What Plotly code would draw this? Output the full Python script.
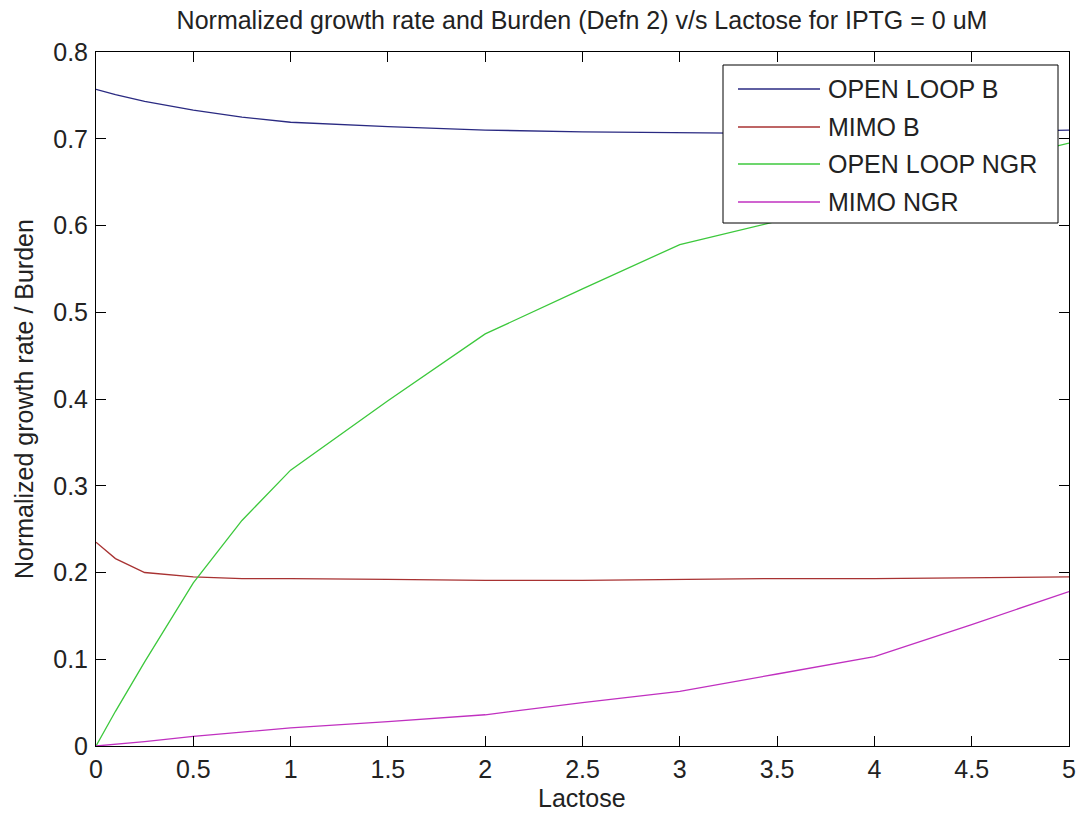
import plotly.graph_objects as go

# ---- data ----
lactose = [0, 0.1, 0.25, 0.5, 0.75, 1, 1.5, 2, 2.5, 3, 3.5, 4, 4.5, 5]
open_loop_b = [0.757, 0.751, 0.743, 0.733, 0.725, 0.719, 0.714, 0.710, 0.708, 0.707, 0.706, 0.706, 0.708, 0.710]
mimo_b = [0.235, 0.216, 0.200, 0.195, 0.193, 0.193, 0.192, 0.191, 0.191, 0.192, 0.193, 0.193, 0.194, 0.195]
open_loop_ngr = [0.0, 0.040, 0.097, 0.188, 0.260, 0.318, 0.398, 0.475, 0.527, 0.578, 0.605, 0.640, 0.668, 0.695]
mimo_ngr = [0.0, 0.002, 0.005, 0.011, 0.016, 0.021, 0.028, 0.036, 0.050, 0.063, 0.083, 0.103, 0.140, 0.178]

series_names = ["OPEN LOOP B", "MIMO B", "OPEN LOOP NGR", "MIMO NGR"]
series_values = [open_loop_b, mimo_b, open_loop_ngr, mimo_ngr]
series_colors = ["#2a2a82", "#a83232", "#3cc83c", "#c030c0"]

x_ticks = [0, 0.5, 1, 1.5, 2, 2.5, 3, 3.5, 4, 4.5, 5]
x_tick_labels = ["0", "0.5", "1", "1.5", "2", "2.5", "3", "3.5", "4", "4.5", "5"]
y_ticks = [0, 0.1, 0.2, 0.3, 0.4, 0.5, 0.6, 0.7, 0.8]
y_tick_labels = ["0", "0.1", "0.2", "0.3", "0.4", "0.5", "0.6", "0.7", "0.8"]

title_text = "Normalized growth rate and Burden (Defn 2) v/s Lactose for IPTG = 0 uM"
x_title = "Lactose"
y_title = "Normalized growth rate / Burden"

FONT = "Liberation Sans, Arial, sans-serif"
FS = 25
TXT = "#222222"

W, H = 1080, 817
L, R, T, B = 96, 11, 52, 71
PW, PH = W - L - R, H - T - B

fig = go.Figure()
for name, vals, col in zip(series_names, series_values, series_colors):
    fig.add_trace(go.Scatter(x=lactose, y=vals, mode="lines", name=name,
                             line=dict(color=col, width=1.3), showlegend=False))

def px_x(px):
    return (px - L) / PW

def px_y(py):
    return (H - B - py) / PH

# custom MATLAB-like legend box
lx0, lx1, ly0, ly1 = 723, 1058, 65, 223
fig.add_shape(type="rect", xref="paper", yref="paper",
              x0=px_x(lx0), x1=px_x(lx1), y0=px_y(ly1), y1=px_y(ly0),
              line=dict(color="black", width=1), fillcolor="white", layer="above")
rows = [89, 127, 164, 202]
for name, col, ry in zip(series_names, series_colors, rows):
    fig.add_shape(type="line", xref="paper", yref="paper",
                  x0=px_x(738), x1=px_x(820), y0=px_y(ry), y1=px_y(ry),
                  line=dict(color=col, width=1.3), layer="above")
    fig.add_annotation(xref="paper", yref="paper", x=px_x(826), y=px_y(ry),
                       text=name, showarrow=False, xanchor="left", yanchor="middle",
                       font=dict(family=FONT, size=FS, color=TXT))

# axis titles
fig.add_annotation(xref="paper", yref="paper", x=px_x(582), y=px_y(798),
                   text=x_title, showarrow=False, xanchor="center", yanchor="middle",
                   font=dict(family=FONT, size=FS, color=TXT))
fig.add_annotation(xref="paper", yref="paper", x=px_x(24), y=px_y(399),
                   text=y_title, showarrow=False, xanchor="center", yanchor="middle",
                   textangle=-90, font=dict(family=FONT, size=FS, color=TXT))

axis_common = dict(showline=True, linecolor="black", linewidth=1, mirror="ticks",
                   ticks="inside", ticklen=10, tickcolor="black", tickwidth=1,
                   showgrid=False, zeroline=False, automargin=False,
                   tickfont=dict(family=FONT, size=FS, color=TXT))

fig.update_layout(
    width=W, height=H,
    margin=dict(l=L, r=R, t=T, b=B, autoexpand=False),
    paper_bgcolor="white", plot_bgcolor="white",
    title=dict(text=title_text, x=px_x(582), xref="paper", xanchor="center",
               y=1 - 20 / H, yref="container", yanchor="middle",
               font=dict(family=FONT, size=FS, color=TXT)),
    xaxis=dict(range=[0, 5], tickvals=x_ticks, ticktext=x_tick_labels,
               ticklabelstandoff=1, **axis_common),
    yaxis=dict(range=[0, 0.8], tickvals=y_ticks, ticktext=y_tick_labels,
               ticklabelstandoff=2, **axis_common),
)

fig.write_html("out.html", config={"displayModeBar": False},
               post_script="document.body.style.margin='0';document.body.style.overflow='hidden';")
